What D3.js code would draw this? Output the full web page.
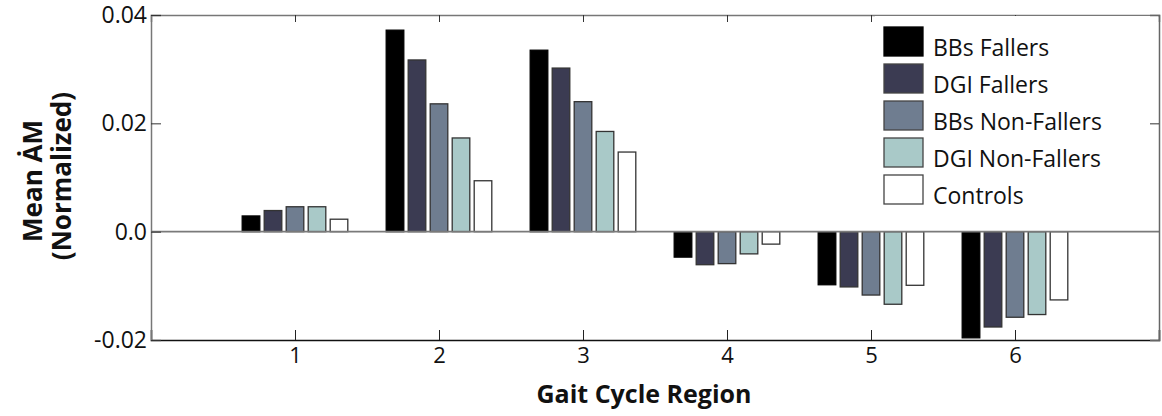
<!DOCTYPE html>
<html>
<head>
<meta charset="utf-8">
<script src="https://cdn.jsdelivr.net/npm/d3@7"></script>
<style>
  body { margin: 0; background: #fff; }
  svg { display: block; font-family: "Open Sans", sans-serif; }
</style>
</head>
<body>
<svg id="chart" width="1162" height="416"></svg>
<script>
// gait cycle regions
var regions = [1, 2, 3, 4, 5, 6];
var series = ["BBs Fallers", "DGI Fallers", "BBs Non-Fallers", "DGI Non-Fallers", "Controls"];
var colors = ["#000000", "#3b3b52", "#6f7d90", "#a9c9c8", "#ffffff"];

// mean AM-dot (normalized), one array per group
var bbsFallers = [0.0029, 0.0372, 0.0335, -0.0047, -0.0098, -0.0196];
var dgiFallers = [0.0039, 0.0317, 0.0302, -0.0061, -0.0102, -0.0176];
var bbsNonFallers = [0.0046, 0.0236, 0.0240, -0.0059, -0.0117, -0.0158];
var dgiNonFallers = [0.0046, 0.0173, 0.0185, -0.0041, -0.0134, -0.0153];
var controls = [0.0023, 0.0094, 0.0147, -0.0023, -0.0099, -0.0126];
var values = [bbsFallers, dgiFallers, bbsNonFallers, dgiNonFallers, controls];

var yTicks = [-0.02, 0.0, 0.02, 0.04];
var yTickLabels = ["-0.02", "0.0", "0.02", "0.04"];

var svg = d3.select("#chart"),
    mLeft = 151, mRight = 1159, mTop = 15, mBottom = 340;

var x = d3.scaleLinear().domain([0, 7]).range([mLeft, mRight]);
var y = d3.scaleLinear().domain([-0.02, 0.04]).range([mBottom, mTop]);
var inner = d3.scaleBand().domain(series).range([-55, 55])
    .paddingInner(0.2).paddingOuter(0.1);

// bars
var rows = [];
series.forEach(function (s, k) {
    regions.forEach(function (r, i) {
        rows.push({ s: s, k: k, r: r, v: values[k][i] });
    });
});

svg.append("g")
    .selectAll("rect")
    .data(rows)
    .enter()
    .append("rect")
    .attr("x", function (d) { return x(d.r) + inner(d.s); })
    .attr("width", inner.bandwidth())
    .attr("y", function (d) { return y(Math.max(0, d.v)); })
    .attr("height", function (d) { return Math.abs(y(d.v) - y(0)); })
    .attr("fill", function (d) { return colors[d.k]; })
    .attr("stroke", function (d) { return d.k == 0 ? "#000" : "#333"; })
    .attr("stroke-width", 1.3);

// zero line
svg.append("line")
    .attr("x1", mLeft).attr("x2", mRight)
    .attr("y1", y(0)).attr("y2", y(0))
    .attr("stroke", "#7a7a7a").attr("stroke-width", 1.6);

// bottom axis (ticks point inward)
var xAxis = d3.axisBottom(x).tickValues(regions).tickSize(-10).tickPadding(7)
    .tickFormat(d3.format("d"));
var gx = svg.append("g").attr("transform", "translate(0," + mBottom + ")").call(xAxis);
gx.select(".domain").attr("stroke", "#111").attr("stroke-width", 1.6);
gx.selectAll(".tick line").attr("stroke", "#222");
gx.selectAll("text").attr("font-size", 22).attr("fill", "#111")
    .attr("font-family", "Open Sans");

// top axis
var gt = svg.append("g").attr("transform", "translate(0," + mTop + ")")
    .call(d3.axisTop(x).tickValues(regions).tickSize(-7).tickFormat(""));
gt.select(".domain").attr("stroke", "#777").attr("stroke-width", 1.5);
gt.selectAll(".tick line").attr("stroke", "#333");

// left axis
var gy = svg.append("g").attr("transform", "translate(" + mLeft + ",0)")
    .call(d3.axisLeft(y).tickValues(yTicks).tickSize(-10).tickPadding(4)
        .tickFormat(function (d, i) { return yTickLabels[i]; }));
gy.select(".domain").attr("stroke", "#777").attr("stroke-width", 1.5);
gy.selectAll(".tick line").attr("stroke", "#333");
gy.selectAll("text").attr("font-size", 23).attr("fill", "#111")
    .attr("font-family", "Open Sans");

// legend background, covers top-right corner of the plot
var lg = svg.append("g");
lg.append("rect")
    .attr("x", 875).attr("y", mTop + 1)
    .attr("width", mRight - 876).attr("height", 190)
    .attr("fill", "#fff");

// right axis
var gr = svg.append("g").attr("transform", "translate(" + mRight + ",0)")
    .call(d3.axisRight(y).tickValues([0.02]).tickSize(-9).tickFormat(""));
gr.select(".domain").attr("stroke", "#666").attr("stroke-width", 1.5);
gr.selectAll(".tick line").attr("stroke", "#333");

var items = lg.selectAll(".item")
    .data(series)
    .enter()
    .append("g")
    .attr("transform", function (d, i) { return "translate(884," + (27 + i * 37) + ")"; });

items.append("rect")
    .attr("width", 39).attr("height", 29)
    .attr("fill", function (d, i) { return colors[i]; })
    .attr("stroke", function (d, i) { return i == 0 ? "#000" : "#444"; })
    .attr("stroke-width", 1.3);

items.append("text")
    .attr("x", 49).attr("y", 29)
    .attr("font-size", 23)
    .attr("fill", "#111")
    .text(function (d) { return d; });

// axis titles
svg.append("text")
    .attr("x", 644).attr("y", 403)
    .attr("text-anchor", "middle")
    .attr("font-size", 25).attr("font-weight", "bold").attr("fill", "#111")
    .text("Gait Cycle Region");

svg.append("text")
    .attr("transform", "translate(42,181) rotate(-90)")
    .attr("text-anchor", "middle")
    .attr("font-size", 26).attr("font-weight", "bold").attr("fill", "#111")
    .text("Mean \u0226M");
svg.append("text")
    .attr("transform", "translate(71,176) rotate(-90)")
    .attr("text-anchor", "middle")
    .attr("font-size", 26).attr("font-weight", "bold").attr("fill", "#111")
    .text("(Normalized)");
</script>
</body>
</html>
